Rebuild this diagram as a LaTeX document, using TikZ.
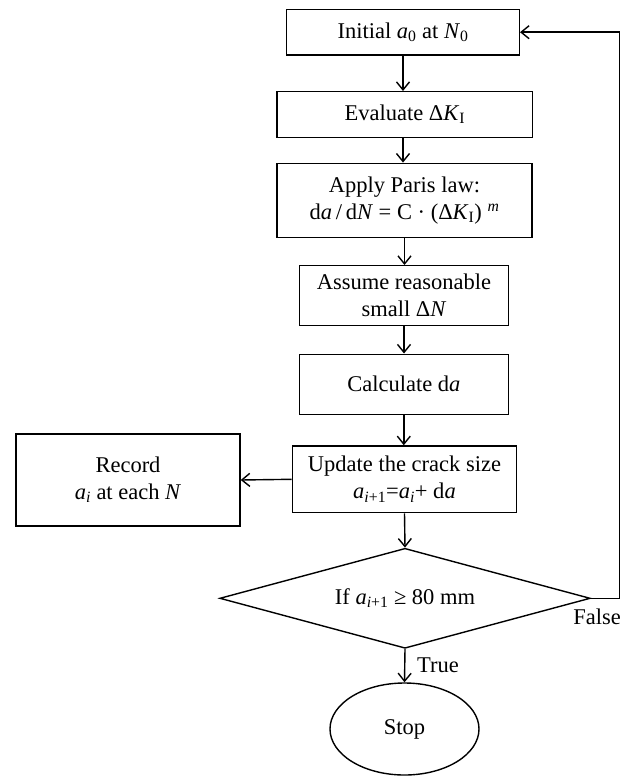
\documentclass[tikz,border=0pt]{standalone}
\usepackage{fontspec}
\setmainfont{Liberation Serif}
\usetikzlibrary{shapes.geometric,arrows.meta}
\newcommand{\vi}[1]{\textit{#1}}
\newcommand{\sub}[1]{\textsubscript{#1}}
\begin{document}
\begin{tikzpicture}[x=1pt,y=-1pt,
  font=\fontsize{22.5}{27}\selectfont,
  box/.style={draw, rectangle, inner sep=0pt, align=center, line width=1.4pt},
  arr/.style={line width=1.4pt, -{Straight Barb[length=8pt,width=13pt,line width=1.4pt]}},
  lbl/.style={inner sep=0pt}]
\useasboundingbox (0,0) rectangle (634,776);

\node[box, minimum width=232.6pt, minimum height=45.7pt] (init) at (403,32.2) {Initial \vi{a}\sub{0} at \vi{N}\sub{0}};
\node[box, minimum width=255.7pt, minimum height=45.8pt] (eval) at (404.8,114.6) {Evaluate Δ\vi{K}\sub{I}};
\node[box, minimum width=255pt, minimum height=74pt] (paris) at (404.5,200.3) {Apply Paris law:\\ d\vi{a}\,/\,d\vi{N} = C · (Δ\vi{K}\sub{I}) \textsuperscript{\vi{m}}};
\node[box, minimum width=209pt, minimum height=60pt] (assume) at (404,295.7) {Assume reasonable\\ small Δ\vi{N}};
\node[box, minimum width=209pt, minimum height=60pt] (calc) at (403.8,384.2) {Calculate d\vi{a}};
\node[box, minimum width=224.4pt, minimum height=66.7pt] (update) at (404.5,479.3) {Update the crack size\\ \vi{a}\sub{\vi{i}+1}=\vi{a}\sub{\vi{i}}+ d\vi{a}};
\node[box, minimum width=224pt, minimum height=92pt] (record) at (128,480) {Record\\ \vi{a}\sub{\vi{i}} at each \vi{N}};
\node[draw, diamond, aspect=3.7, inner sep=0pt, line width=1.4pt, minimum width=370.5pt, minimum height=100pt] (dec) at (405,598.3) {If \vi{a}\sub{\vi{i}+1} ≥ 80 mm};
\node[draw, ellipse, inner sep=0pt, line width=1.4pt, minimum width=149pt, minimum height=92pt] (stop) at (404.5,729) {Stop};

\coordinate (fr) at (619.3,598.3);
\coordinate (fu) at (619.3,32.2);

\draw[arr] (init.south) -- (init.south |- eval.north);
\draw[arr] (eval.south -| init.south) -- (init.south |- paris.north);
\draw[arr] (paris.south) -- (paris.south |- assume.north);
\draw[arr] (assume.south) -- (assume.south |- calc.north);
\draw[arr] (calc.south) -- (calc.south |- update.north);
\draw[arr] (update.west) -- (record.east);
\draw[arr] (update.south) -- (dec.north);
\draw[arr] (dec.south) -- (stop.north);
\draw[arr] (dec.east) -- (fr) -- (fu) -- (init.east);

\node[lbl, anchor=west] (true) at (417,665) {True};
\node[lbl] (false) at (597,617) {False};
\end{tikzpicture}
\end{document}
